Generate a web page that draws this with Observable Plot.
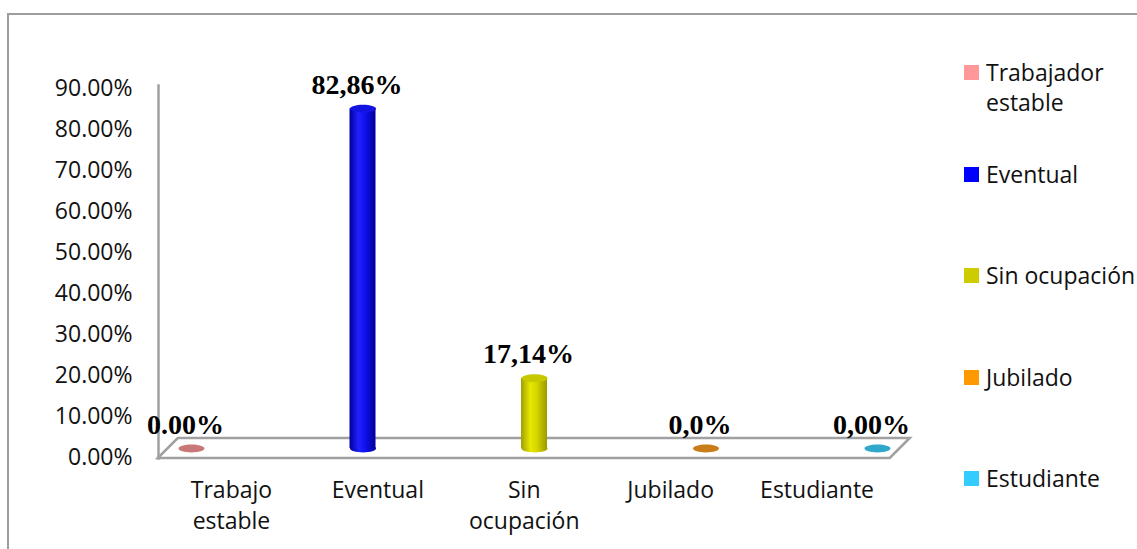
<!DOCTYPE html>
<html><head><meta charset="utf-8">
<script src="https://cdn.jsdelivr.net/npm/d3@7"></script>
<script src="https://cdn.jsdelivr.net/npm/@observablehq/plot@0.6"></script>
<style>
html,body{margin:0;padding:0;background:#fff;overflow:hidden;}
#wrap{position:relative;width:1137px;height:549px;font-family:"Open Sans",Lato,sans-serif;}
#chart{position:absolute;left:0;top:0;}
#border{position:absolute;left:7px;top:13px;width:1200px;height:600px;border-top:2px solid #9d9d9d;border-left:2px solid #9d9d9d;pointer-events:none;}
.item{position:absolute;left:964px;display:flex;align-items:flex-start;font-size:23px;line-height:30px;color:#111;}
.sw{width:15px;height:15px;margin-top:8px;margin-right:7px;flex:none;}
</style></head>
<body><div id="wrap"><div id="chart"></div><div id="border"></div><div id="legend"></div></div>
<script>
// ---- data ----
const categories = ["Trabajo estable", "Eventual", "Sin ocupación", "Jubilado", "Estudiante"];
const axisLabels = [["Trabajo", "estable"], ["Eventual"], ["Sin", "ocupación"], ["Jubilado"], ["Estudiante"]];
const values = [0, 82.86, 17.14, 0, 0];
const valueLabels = ["0.00%", "82,86%", "17,14%", "0,0%", "0,00%"];
const legendLabels = [["Trabajador", "estable"], ["Eventual"], ["Sin ocupación"], ["Jubilado"], ["Estudiante"]];
const yTicks = [0, 10, 20, 30, 40, 50, 60, 70, 80, 90];
const colors = ["#ff9999", "#0000ff", "#cccc00", "#ff9900", "#33ccff"];

// ---- styling helpers ----
const topColors = ["#c97878", "#1414e0", "#c8c800", "#c97d18", "#30a8cc"];
const gradStops = {
  1: ["#00009c", "#2222ff", "#1010ee", "#000098"],
  2: ["#9e9e00", "#e8e800", "#d6d600", "#9a9a00"]
};
const persp = 146.4 / 171.5;            // front plane vs bar plane spacing
const labelPos = i => 0.233 + persp * i;  // category label position (front plane)

const rows = categories.map((c, i) => ({
  i, cat: c, value: values[i], label: valueLabels[i],
  fill: `url(#grad${i})`, top: topColors[i]
}));
const barRows = rows.filter(d => d.value > 0);

const ellipse = {
  draw(ctx, size) {
    const r = Math.sqrt(size / Math.PI), rx = r, ry = r * 0.3, k = 0.5523;
    ctx.moveTo(rx, 0);
    ctx.bezierCurveTo(rx, ry * k, rx * k, ry, 0, ry);
    ctx.bezierCurveTo(-rx * k, ry, -rx, ry * k, -rx, 0);
    ctx.bezierCurveTo(-rx, -ry * k, -rx * k, -ry, 0, -ry);
    ctx.bezierCurveTo(rx * k, -ry, rx, -ry * k, rx, 0);
    ctx.closePath();
  }
};

function defsMark() {
  const defs = d3.create("svg:defs");
  for (const [i, stops] of Object.entries(gradStops)) {
    const g = defs.append("linearGradient").attr("id", `grad${i}`).attr("x1", 0).attr("x2", 1).attr("y1", 0).attr("y2", 0);
    [0, 0.35, 0.6, 1].forEach((o, j) => g.append("stop").attr("offset", o).attr("stop-color", stops[j]));
  }
  return defs.node();
}

function floorMark(index, {x, y}) {
  const xl = x(labelPos(-0.5)), xr = x(labelPos(4.5)), y0 = y(0) + 1, d = 20;
  const p = d3.path();
  p.moveTo(xl, y0); p.lineTo(xr, y0); p.lineTo(xr + d, y0 - d); p.lineTo(xl + d, y0 - d); p.closePath();
  return d3.create("svg:path").attr("d", p.toString()).attr("fill", "#fff")
    .attr("stroke", "#a0a0a0").attr("stroke-width", 2.5).node();
}

const BAR_HALF = 13 / 171.5;
const DEPTH = -9;

const chart = Plot.plot({
  width: 1137, height: 549,
  marginLeft: 158, marginRight: 0, marginTop: 85, marginBottom: 91,
  style: {fontFamily: "'Open Sans', Lato, sans-serif", background: "transparent", color: "#111"},
  x: {type: "linear", domain: [0, 4], range: [191, 877], axis: null},
  y: {domain: [0, 90], range: [457, 88]},
  color: {type: "identity"},
  marks: [
    defsMark,
    Plot.frame({anchor: "left", stroke: "#a0a0a0", strokeWidth: 2.5}),
    floorMark,
    Plot.axisY(yTicks, {tickSize: 0, tickPadding: 26, fontSize: 23, label: null,
      tickFormat: d => d.toFixed(2) + "%"}),
    // bottom caps of cylinders
    Plot.dot(barRows, {x: "i", y: 0, dy: DEPTH, r: 13, symbol: ellipse, fill: "fill"}),
    // cylinder bodies
    Plot.rect(barRows, {x1: d => d.i - BAR_HALF, x2: d => d.i + BAR_HALF, y1: 0, y2: "value", dy: DEPTH, fill: "fill"}),
    // top caps (and flat discs for zero values)
    Plot.dot(rows, {x: "i", y: "value", dy: DEPTH, r: 13, symbol: ellipse, fill: "top"}),
    // value labels
    Plot.text(rows, {x: "i", y: "value", text: "label", dy: DEPTH - 15, dx: -6, lineAnchor: "bottom",
      fontFamily: "'Liberation Serif', 'Times New Roman', serif", fontWeight: "bold", fontSize: 28, fill: "#000"}),
    // category labels
    Plot.text(rows, {x: d => labelPos(d.i), y: 0, text: d => axisLabels[d.i].join("\n"),
      lineAnchor: "top", lineHeight: 1.34, dy: 19, fontSize: 23, fill: "#111"})
  ]
});
document.getElementById("chart").append(chart);

// ---- legend ----
const legend = document.getElementById("legend");
legendLabels.forEach((lines, i) => {
  const it = document.createElement("div");
  it.className = "item";
  it.style.top = (57 + i * 101.5) + "px";
  const sw = document.createElement("div");
  sw.className = "sw"; sw.style.background = colors[i];
  const tx = document.createElement("div");
  tx.innerHTML = lines.join("<br>");
  it.append(sw, tx);
  legend.append(it);
});
</script></body></html>
